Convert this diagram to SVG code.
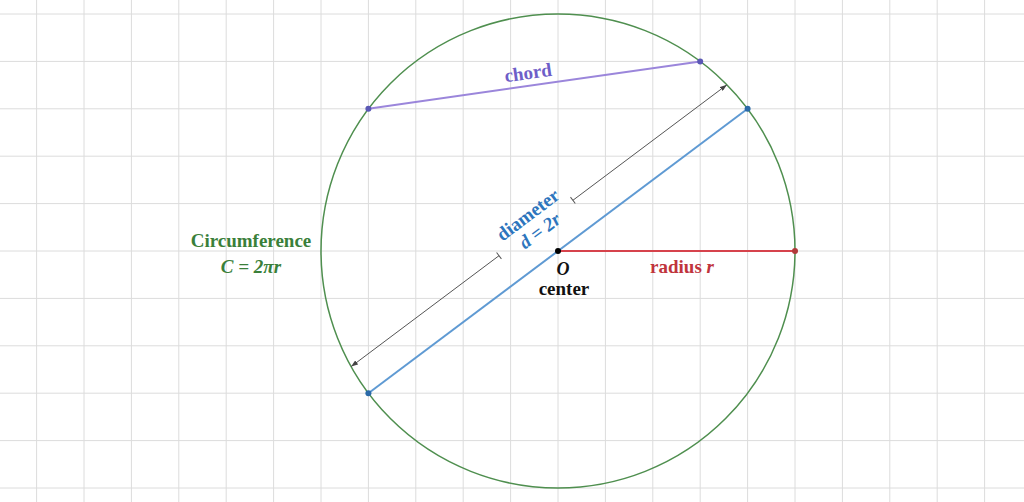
<svg xmlns="http://www.w3.org/2000/svg" width="1024" height="502" viewBox="0 0 1024 502">
<style>
.grid line{stroke:#dcdcdc;stroke-width:1}
.lbl{font-family:"Liberation Serif","Times New Roman",serif;font-weight:bold;font-size:19px;text-anchor:middle}
.m{font-style:italic}
.dim{stroke:#555;stroke-width:1;fill:none;marker-start:url(#bar);marker-end:url(#arr)}
</style>
<defs>
<marker id="arr" viewBox="0 0 7 5" refX="7" refY="2.5" markerWidth="7" markerHeight="5" markerUnits="userSpaceOnUse" orient="auto"><path d="M0,0 L7,2.5 L0,5 z" fill="#444"/></marker>
<marker id="bar" viewBox="-1 -5 2 10" refX="0" refY="0" markerWidth="2" markerHeight="10" markerUnits="userSpaceOnUse" orient="auto"><path d="M0,-4 L0,4" stroke="#555" stroke-width="1"/></marker>
</defs>
<rect width="1024" height="502" fill="#fff"/>
<g class="grid" id="grid">
<line x1="36.6" y1="0" x2="36.6" y2="502"/><line x1="84" y1="0" x2="84" y2="502"/><line x1="131.4" y1="0" x2="131.4" y2="502"/><line x1="178.8" y1="0" x2="178.8" y2="502"/><line x1="226.2" y1="0" x2="226.2" y2="502"/><line x1="273.6" y1="0" x2="273.6" y2="502"/><line x1="321" y1="0" x2="321" y2="502"/><line x1="368.4" y1="0" x2="368.4" y2="502"/><line x1="415.8" y1="0" x2="415.8" y2="502"/><line x1="463.2" y1="0" x2="463.2" y2="502"/><line x1="510.6" y1="0" x2="510.6" y2="502"/><line x1="558" y1="0" x2="558" y2="502"/><line x1="605.4" y1="0" x2="605.4" y2="502"/><line x1="652.8" y1="0" x2="652.8" y2="502"/><line x1="700.2" y1="0" x2="700.2" y2="502"/><line x1="747.6" y1="0" x2="747.6" y2="502"/><line x1="795" y1="0" x2="795" y2="502"/><line x1="842.4" y1="0" x2="842.4" y2="502"/><line x1="889.8" y1="0" x2="889.8" y2="502"/><line x1="937.2" y1="0" x2="937.2" y2="502"/><line x1="984.6" y1="0" x2="984.6" y2="502"/>
<line x1="0" y1="14" x2="1024" y2="14"/><line x1="0" y1="61.4" x2="1024" y2="61.4"/><line x1="0" y1="108.8" x2="1024" y2="108.8"/><line x1="0" y1="156.2" x2="1024" y2="156.2"/><line x1="0" y1="203.6" x2="1024" y2="203.6"/><line x1="0" y1="251" x2="1024" y2="251"/><line x1="0" y1="298.4" x2="1024" y2="298.4"/><line x1="0" y1="345.8" x2="1024" y2="345.8"/><line x1="0" y1="393.2" x2="1024" y2="393.2"/><line x1="0" y1="440.6" x2="1024" y2="440.6"/><line x1="0" y1="488" x2="1024" y2="488"/>
</g>
<g id="circle">
<circle cx="558" cy="251" r="237" fill="none" stroke="#4f8f4f" stroke-width="1.5"/>
<text class="lbl" x="251" y="247" fill="#3a7f3a">Circumference</text>
<text class="lbl m" x="251" y="273" fill="#3a7f3a">C = 2πr</text>
</g>
<g id="connectors">
<line id="chord-line" x1="368.4" y1="108.8" x2="700.2" y2="61.4" stroke="#9b86db" stroke-width="2"/>
<line id="diameter-line" x1="368.4" y1="393.2" x2="747.6" y2="108.8" stroke="#5f9ad3" stroke-width="2"/>
<line id="radius-line" x1="558" y1="251" x2="795" y2="251" stroke="#d6434c" stroke-width="2"/>
<path class="dim" d="M572.9,200.3 L726.9,84.8"/>
<path class="dim" d="M499,255.7 L351.1,366.6"/>
</g>
<g id="chord">
<circle cx="368.4" cy="108.8" r="3" fill="#5b58b5"/>
<circle cx="700.2" cy="61.4" r="3" fill="#5b58b5"/>
<text class="lbl" transform="translate(529,79) rotate(-8.13)" fill="#6e5ec8">chord</text>
</g>
<g id="diameter">
<circle cx="368.4" cy="393.2" r="3" fill="#2b6aa8"/>
<circle cx="747.6" cy="108.8" r="3" fill="#2b6aa8"/>
<g transform="translate(528,215) rotate(-36.87)" fill="#2d75bd">
<text class="lbl" x="0" y="6">diameter</text>
<text class="lbl m" x="0" y="26">d = 2r</text>
</g>
</g>
<g id="radius">
<circle cx="795" cy="251" r="3" fill="#b03a3a"/>
<text class="lbl" x="682" y="273" fill="#c0343c">radius <tspan class="m">r</tspan></text>
</g>
<g id="center">
<circle cx="558" cy="251" r="3" fill="#000"/>
<text class="lbl m" x="563" y="275" fill="#111" style="font-size:18px">O</text>
<text class="lbl" x="564" y="295" fill="#111">center</text>
</g>
</svg>
